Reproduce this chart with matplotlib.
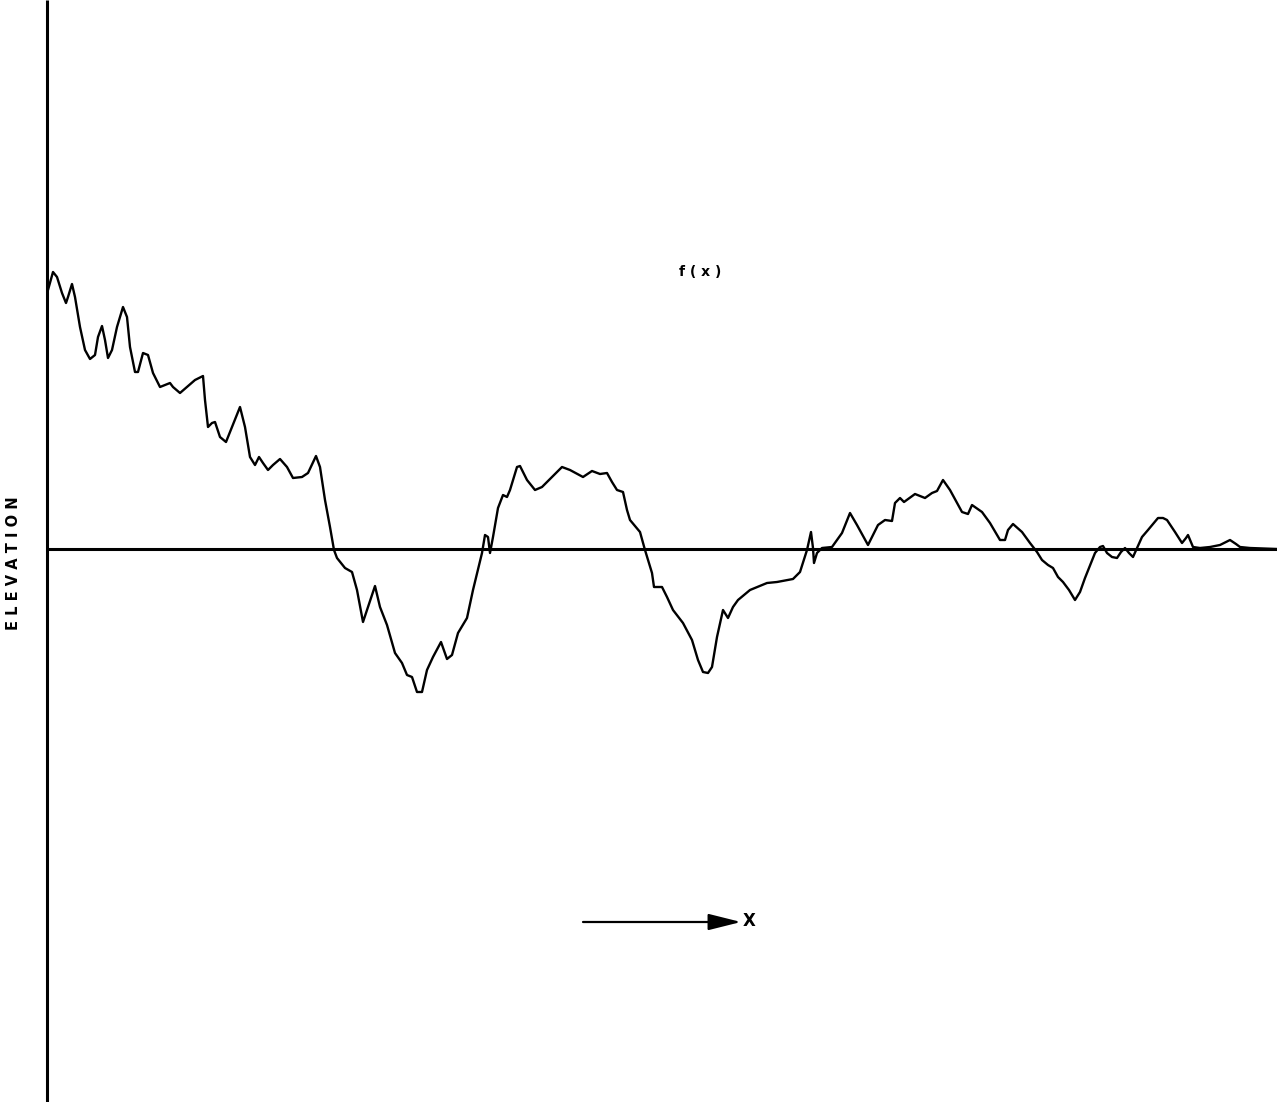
import matplotlib
matplotlib.use("Agg")
import matplotlib.pyplot as plt

# Profile trace: horizontal position and elevation (zero line = 0)
x_pos = [48, 53, 57, 62, 66, 68, 72, 75, 80, 85, 90, 95, 98, 102, 105, 108, 112, 117, 123,
         127, 130, 135, 138, 143, 148, 153, 160, 165, 170, 173, 180, 187, 195, 203, 205,
         208, 212, 215, 220, 226, 232, 240, 245, 250, 255, 259, 263, 268, 273, 280, 287,
         293, 302, 308, 316, 320, 325, 330, 334, 337, 345, 352, 357, 363, 368, 375, 380,
         387, 395, 402, 407, 412, 417, 422, 427, 433, 441, 447, 452, 458, 467, 473, 482,
         485, 488, 490, 493, 498, 503, 507, 510, 517, 520, 527, 535, 542, 562, 570, 583,
         592, 600, 607, 612, 617, 623, 627, 630, 640, 645, 652, 654, 662, 667, 673, 683,
         692, 698, 703, 708, 712, 717, 723, 728, 733, 738, 750, 767, 777, 793, 800, 807,
         811, 813, 814, 817, 822, 832, 842, 850, 857, 868, 878, 885, 892, 895, 900, 904,
         915, 925, 932, 937, 943, 950, 962, 968, 972, 982, 990, 1000, 1005, 1008, 1013,
         1022, 1030, 1037, 1042, 1048, 1053, 1058, 1063, 1069, 1075, 1080, 1085, 1095,
         1100, 1103, 1107, 1112, 1117, 1121, 1125, 1129, 1133, 1137, 1142, 1148, 1158,
         1163, 1167, 1175, 1182, 1186, 1188, 1193, 1200, 1210, 1220, 1230, 1236, 1240,
         1250, 1277]
elev = [259, 277, 272, 256, 246, 252, 265, 252, 222, 199, 190, 194, 212, 223, 209, 191,
        199, 222, 242, 232, 202, 177, 177, 196, 194, 176, 162, 164, 166, 162, 156, 162,
        169, 173, 149, 122, 126, 127, 112, 107, 122, 142, 122, 92, 84, 92, 86, 79, 84,
        90, 82, 71, 72, 76, 93, 82, 49, 22, -1, -9, -19, -23, -41, -73, -58, -37, -58,
        -76, -104, -114, -126, -128, -143, -143, -121, -108, -93, -110, -106, -84, -69,
        -41, -4, 14, 12, -4, 12, 41, 54, 52, 59, 82, 83, 69, 59, 62, 82, 79, 72, 78, 75,
        76, 67, 59, 57, 39, 29, 17, -1, -24, -38, -38, -48, -61, -74, -91, -111, -123,
        -124, -118, -88, -61, -69, -58, -51, -41, -34, -33, -30, -23, -1, 17, 1, -14, -4,
        1, 2, 16, 36, 24, 4, 24, 29, 28, 46, 51, 47, 55, 51, 56, 58, 69, 59, 37, 35, 44,
        37, 26, 9, 9, 19, 25, 17, 6, -3, -11, -16, -19, -28, -33, -41, -51, -43, -29, -4,
        2, 3, -4, -8, -9, -3, 1, -4, -8, 1, 12, 19, 31, 31, 29, 17, 6, 11, 14, 2, 1, 2,
        4, 9, 5, 2, 1, 0]

fig = plt.figure(figsize=(12.77, 11.02), dpi=100)
ax = fig.add_axes([0, 0, 1, 1])
ax.set_xlim(0, 1277)
ax.set_ylim(549 - 1102, 549)
ax.axis("off")

# vertical axis and zero line
ax.plot([47, 47], [549, 549 - 1102], color="black", lw=2.2, solid_capstyle="butt")
ax.plot([47, 1277], [0, 0], color="black", lw=2.2, solid_capstyle="butt")

ax.plot(x_pos, elev, color="black", lw=1.7, solid_joinstyle="round",
        solid_capstyle="round")

ax.text(700, 549 - 272, "f ( x )", ha="center", va="center", fontsize=10,
        fontweight="bold", family="DejaVu Sans")
ax.text(14, 549 - 563, "E L E V A T I O N", ha="center", va="center", rotation=90,
        fontsize=10.5, fontweight="bold", family="DejaVu Sans")

ax.annotate("", xy=(741, 549 - 922), xytext=(583, 549 - 922),
            arrowprops=dict(arrowstyle="-|>,head_length=2.0,head_width=0.5",
                            color="black", lw=1.6, shrinkA=0, shrinkB=0))
ax.text(749, 549 - 921, "X", ha="center", va="center", fontsize=12,
        fontweight="semibold", family="DejaVu Sans")

fig.savefig("out.png", dpi=100, facecolor="white")
